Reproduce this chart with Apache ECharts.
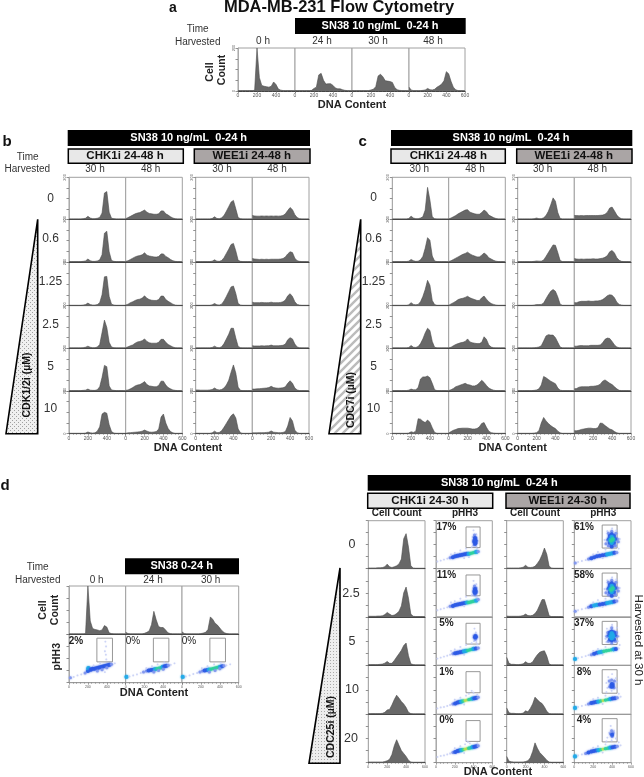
<!DOCTYPE html>
<html><head><meta charset="utf-8">
<style>html,body{margin:0;padding:0;background:#fff}#c{width:644px;height:777px;filter:blur(0.35px)}</style>
<script src="https://cdn.jsdelivr.net/npm/echarts@6/dist/echarts.min.js"></script>
</head><body><div id="c"></div>
<script>
// DNA-content bin centres shared by all histograms
const dnaBins=[0,25,50,75,100,125,150,175,200,225,250,275,300,325,350,375,400,425,450,475,500,525,550,575,600];

// Panel a
const a_0h =[2,2,2,2,2,2,2,3,200,62,26,22,20,18,22,42,30,9,4,2,2,2,2,2,2];
const a_24h=[2,2,2,2,2,2,2,3,12,18,75,82,50,32,34,34,26,14,10,10,6,3,2,2,2];
const a_30h=[2,2,2,2,2,2,2,2,5,8,20,70,78,66,48,46,44,40,16,6,3,2,2,2,2];
const a_48h=[18,4,2,2,2,2,3,5,12,6,5,8,18,24,32,48,90,80,45,18,6,2,2,2,2];

// Panel b: CHK1i / WEE1i at 30 h and 48 h, rows 0 to 10 uM
const b_chk30=[
[2,2,2,2,2,2,3,5,14,6,3,3,5,9,30,125,132,34,5,3,2,2,2,2,2],
[2,2,2,2,2,2,3,5,14,6,3,3,5,10,34,135,144,48,7,3,2,2,2,2,2],
[2,2,2,2,2,2,3,5,12,5,3,3,5,14,50,132,134,42,7,3,2,2,2,2,2],
[2,2,2,2,2,2,3,5,10,5,3,3,6,18,74,132,98,28,6,3,2,2,2,2,2],
[2,2,2,2,2,2,3,4,9,4,3,3,6,20,64,120,114,24,5,3,2,2,2,2,2],
[2,2,2,2,2,2,2,3,8,4,3,4,12,32,92,100,96,42,10,3,2,2,2,2,2]];
const b_chk48=[
[3,8,14,20,26,30,32,38,44,34,28,26,24,24,26,40,40,26,20,12,6,3,2,2,2],
[3,6,12,18,24,28,30,34,43,32,28,26,24,23,26,38,38,26,20,12,6,3,2,2,2],
[3,7,14,18,24,28,30,35,45,34,28,25,24,24,28,44,44,28,20,14,7,3,2,2,2],
[3,7,12,16,24,30,32,36,44,32,26,24,24,24,28,42,42,28,18,12,6,3,2,2,2],
[3,5,10,16,24,28,30,36,44,30,24,22,20,20,26,46,46,28,16,10,5,3,2,2,2],
[2,4,5,6,7,8,9,12,17,12,8,7,8,10,22,78,92,50,24,10,4,2,2,2,2]];
const b_wee30=[
[2,2,2,2,2,2,2,4,12,4,3,7,18,38,60,82,90,50,8,3,2,2,2,2,2],
[2,2,2,2,2,2,2,4,10,4,3,7,20,40,60,82,87,52,8,3,2,2,2,2,2],
[2,2,2,2,2,2,2,4,10,4,3,7,22,42,64,86,90,56,10,3,2,2,2,2,2],
[2,2,2,2,2,2,2,4,10,4,3,7,22,44,66,94,94,48,9,3,2,2,2,2,2],
[5,5,4,4,4,4,5,7,14,7,5,7,14,28,50,88,122,84,18,3,2,2,2,2,2],
[2,2,2,2,2,2,2,4,12,5,6,14,30,48,66,84,93,74,22,4,2,2,2,2,2]];
const b_wee48=[
[18,16,15,15,16,15,16,15,16,15,16,15,16,18,26,42,56,46,22,8,3,2,2,2,2],
[16,14,13,12,13,12,13,12,13,13,13,13,14,16,24,38,48,44,18,6,3,2,2,2,2],
[16,14,14,14,15,14,14,14,16,14,14,14,15,18,26,45,55,42,18,6,3,2,2,2,2],
[12,11,11,11,12,11,12,12,15,12,12,12,13,14,20,40,50,44,20,6,3,2,2,2,2],
[9,9,10,11,12,13,14,16,22,16,14,13,14,15,20,36,48,36,14,5,2,2,2,2,2],
[4,4,4,5,5,5,6,7,13,7,6,5,5,6,10,36,76,60,16,5,2,2,2,2,2]];

// Panel c: CDC7i rows 0 to 10 uM
const c_chk30=[
[2,2,2,2,2,2,2,4,15,6,3,3,6,12,44,152,92,12,3,2,2,2,2,2,2],
[2,2,2,2,2,2,2,4,12,6,3,4,10,26,64,114,102,28,5,2,2,2,2,2,2],
[2,2,2,2,2,2,2,4,14,6,4,6,18,42,74,116,94,24,5,2,2,2,2,2,2],
[2,2,2,2,2,2,2,4,13,5,4,8,22,44,72,94,84,32,5,2,2,2,2,2,2],
[2,2,2,2,2,2,2,4,9,6,6,16,56,66,66,70,62,36,6,2,2,2,2,2,2],
[2,2,2,2,2,2,2,3,9,6,12,70,68,58,52,64,54,28,6,2,2,2,2,2,2]];
const c_chk48=[
[2,6,12,18,26,32,38,44,46,34,30,26,24,24,32,44,36,20,14,8,4,2,2,2,2],
[2,6,12,18,24,30,36,40,46,38,32,28,24,24,32,42,34,20,14,8,4,2,2,2,2],
[2,8,14,20,28,32,34,38,43,36,32,28,24,24,36,44,30,18,10,6,3,2,2,2,2],
[2,5,12,18,22,26,28,32,44,30,26,24,22,22,28,54,42,16,6,3,2,2,2,2,2],
[2,6,12,20,24,28,32,36,30,28,24,24,28,38,50,40,26,14,8,4,2,2,2,2,2],
[3,10,16,20,24,25,26,26,26,24,22,22,24,32,48,52,30,12,5,3,2,2,2,2,2]];
const c_wee30=[
[2,2,2,2,2,2,2,3,6,3,3,7,18,38,68,102,86,32,4,2,2,2,2,2,2],
[2,2,2,2,2,2,2,3,5,4,4,9,26,44,62,80,78,44,7,2,2,2,2,2,2],
[2,2,2,2,2,2,2,3,5,5,6,12,32,50,66,74,66,40,7,2,2,2,2,2,2],
[2,2,2,2,2,2,2,3,4,6,12,34,58,64,62,62,50,28,6,2,2,2,2,2,2],
[2,2,2,2,2,2,2,3,5,10,28,68,62,54,46,40,34,14,4,2,2,2,2,2,2],
[2,2,2,2,2,2,2,3,5,14,50,76,60,48,38,30,24,12,4,2,2,2,2,2,2]];
const c_wee48=[
[18,18,17,18,17,18,18,18,18,18,18,19,20,24,34,54,58,40,20,8,3,2,2,2,2],
[16,14,13,14,13,14,14,14,15,14,14,16,18,22,30,48,54,42,20,8,3,2,2,2,2],
[14,14,18,20,20,20,22,20,20,22,22,24,28,36,46,50,48,36,16,6,3,2,2,2,2],
[10,10,12,13,12,12,12,14,14,14,14,16,26,42,48,46,32,16,6,3,2,2,2,2,2],
[10,12,18,20,20,20,20,22,22,24,26,32,46,52,44,36,30,20,10,3,2,2,2,2,2],
[14,14,16,20,22,24,26,26,24,24,28,50,48,38,30,22,18,10,4,2,2,2,2,2,2]];

// Panel d, left
const d_0h =[2,2,2,2,2,2,2,3,200,55,24,20,18,15,18,36,30,6,3,2,2,2,2,2,2];
const d_24h=[8,3,2,2,2,2,2,2,4,8,14,40,95,60,32,28,28,18,6,3,2,2,2,2,2];
const d_30h=[10,3,2,2,2,2,2,2,3,5,8,20,72,62,46,38,26,14,6,3,2,2,2,2,2];

// Panel d, right: cell count rows 0 to 20 uM
const d_chkCount=[
[3,3,3,3,4,4,5,8,19,8,5,8,12,20,40,125,146,90,12,3,2,2,2,2,2],
[3,3,3,3,4,4,5,10,19,12,6,8,14,24,46,100,124,78,12,3,2,2,2,2,2],
[3,3,3,3,3,4,5,9,16,8,8,20,34,48,62,82,92,40,6,3,2,2,2,2,2],
[3,3,3,3,3,3,4,8,18,20,38,60,78,66,52,42,28,8,3,2,2,2,2,2,2],
[3,3,3,3,3,3,3,5,8,14,34,70,95,72,50,38,26,10,3,2,2,2,2,2,2]];
const d_weeCount=[
[3,3,3,3,3,3,4,6,14,6,5,6,10,22,36,58,86,60,10,3,2,2,2,2,2],
[4,3,3,3,3,3,4,6,12,6,5,7,14,28,50,72,72,40,5,2,2,2,2,2,2],
[33,8,4,4,3,3,4,6,15,8,8,14,30,44,54,58,60,38,5,2,2,2,2,2,2],
[26,6,4,4,3,3,3,5,14,10,24,42,70,60,50,44,30,12,3,2,2,2,2,2,2],
[26,6,4,3,3,3,3,3,5,8,20,46,82,60,42,32,22,10,3,2,2,2,2,2,2]];

// pHH3 dot plots: [DNA content, pHH3 level, density class]
const gateLeft=[295,460,43,92], gateChk=[320,470,44,87], gateWee=[295,453,43,91];
const pct_left=["2%","0%","0%"];
const pct_chk=["17%","11%","5%","1%","0%"];
const pct_wee=["61%","58%","37%","8%","4%"];
const p_left0=[[15,10,2],[50,12,1],[90,15,1],[130,17,1],[170,20,2],[200,24,3],[215,28,3],[205,30,4],[230,27,3],[250,29,3],[270,29,3],[290,30,3],[310,31,3],[330,32,3],[350,33,3],[370,34,3],[390,35,3],[410,36,3],[430,37,3],[450,38,2],[485,40,1],[300,24,2],[350,27,2],[400,31,2],[260,36,1],[330,40,1],[380,22,1],[385,85,1],[392,75,1],[380,65,1],[390,58,1],[395,48,1]];
const p_left1=[[8,12,4],[40,13,1],[80,15,1],[120,17,1],[160,20,1],[190,22,2],[220,24,2],[245,25,3],[270,26,3],[295,27,3],[315,28,4],[335,29,5],[355,30,5],[375,31,5],[395,33,4],[415,34,3],[435,35,3],[455,36,2],[480,37,1],[520,40,1],[300,22,2],[350,25,2],[400,28,2],[280,34,1],[340,38,1],[410,42,1],[220,30,1]];
const p_left2=[[8,12,4],[40,13,1],[80,15,1],[120,18,1],[160,20,1],[190,22,2],[215,24,2],[240,25,3],[265,26,3],[285,27,4],[305,28,5],[325,29,5],[345,30,5],[365,31,5],[385,32,5],[405,33,4],[425,34,3],[445,35,2],[470,36,1],[510,38,1],[290,22,2],[350,25,2],[400,29,2],[270,34,1],[340,38,1],[410,41,1],[210,30,1]];
const p_chk=[
[[15,15,1],[50,17,1],[85,19,1],[120,21,1],[150,23,2],[180,24,3],[205,26,3],[230,27,3],[255,28,3],[280,29,3],[305,30,3],[330,31,3],[350,31,4],[370,32,5],[390,33,5],[410,34,5],[430,35,4],[450,36,2],[200,33,1],[260,38,1],[320,42,1],[380,45,1],[300,22,1],[440,42,1],[160,30,1],[350,24,1],[400,80,1],[430,72,1],[390,66,1],[445,58,1],[395,48,1],[430,46,1],[410,70,2],[425,64,2],[405,60,2],[430,54,2],[410,50,2],[415,64,3],[422,58,3],[408,56,3],[418,52,3],[415,58,3]],
[[15,14,1],[50,16,1],[85,18,1],[120,20,1],[150,22,2],[180,23,3],[205,25,3],[230,26,3],[255,27,3],[280,28,3],[305,29,3],[330,30,4],[350,30,5],[370,31,5],[390,32,5],[410,33,5],[430,34,4],[450,36,2],[200,33,1],[260,38,1],[320,42,1],[380,45,1],[300,22,1],[440,42,1],[160,30,1],[400,75,1],[430,68,1],[395,60,1],[440,52,1],[400,45,1],[430,42,1],[410,64,2],[425,60,2],[405,55,2],[428,50,2],[415,46,2],[415,58,3],[422,54,3],[410,52,3],[416,50,3]],
[[15,14,1],[50,16,1],[85,18,1],[120,20,1],[150,22,1],[180,24,2],[205,25,3],[230,26,3],[255,27,3],[280,28,3],[300,29,4],[320,30,4],[340,31,5],[360,32,5],[380,33,5],[400,34,4],[425,35,3],[450,36,2],[200,33,1],[260,38,1],[320,42,1],[380,46,1],[300,22,1],[440,44,1],[160,30,1],[410,76,1],[425,68,1],[400,62,1],[440,58,1],[405,50,1],[430,48,1],[418,62,2],[428,58,2],[410,58,2],[420,54,2],[418,58,3],[422,60,3]],
[[15,12,1],[50,14,1],[85,15,1],[120,17,1],[150,19,1],[180,21,2],[205,22,3],[230,24,3],[250,25,3],[270,26,4],[290,27,5],[310,28,6],[330,29,6],[350,30,5],[370,31,5],[390,32,4],[410,33,3],[430,34,3],[450,35,2],[200,30,1],[260,34,1],[320,38,1],[350,42,1],[300,20,1],[440,40,1],[400,44,1],[380,48,1]],
[[15,12,1],[50,14,1],[85,15,1],[120,17,1],[150,19,1],[180,21,2],[205,22,3],[230,24,3],[250,25,3],[270,26,4],[290,27,5],[310,28,6],[330,29,6],[350,30,5],[370,31,5],[390,32,4],[410,33,3],[430,34,3],[450,35,2],[200,30,1],[260,34,1],[310,38,1],[340,43,1],[300,20,1],[440,40,1],[360,40,1],[320,46,1]]];
const p_wee=[
[[10,12,2],[40,14,1],[80,16,1],[120,18,1],[150,20,2],[180,22,3],[210,24,3],[240,26,3],[270,27,3],[300,28,3],[330,29,3],[350,30,4],[375,31,4],[400,32,4],[425,33,3],[450,34,2],[250,35,1],[330,40,1],[470,42,1],[300,22,1],[200,30,1],[320,60,1],[480,62,1],[400,84,1],[350,78,1],[445,80,1],[335,52,2],[465,56,2],[360,74,2],[440,74,2],[396,78,2],[350,60,2],[455,62,2],[360,48,2],[435,48,2],[396,46,3],[368,62,3],[430,62,3],[396,72,3],[396,52,3],[375,68,3],[420,68,3],[375,54,3],[420,54,3],[382,60,4],[412,60,4],[396,66,4],[396,54,4],[398,60,5],[408,62,5],[388,58,5]],
[[10,12,2],[40,14,1],[80,16,1],[120,18,1],[150,20,2],[180,22,3],[210,24,4],[240,25,4],[270,26,3],[300,27,3],[330,28,3],[350,29,4],[375,30,4],[400,31,4],[425,32,3],[450,33,2],[250,35,1],[330,38,1],[470,40,1],[300,21,1],[200,30,1],[320,58,1],[480,60,1],[400,82,1],[350,76,1],[445,78,1],[335,50,2],[465,54,2],[360,72,2],[440,72,2],[396,76,2],[350,58,2],[455,60,2],[360,46,2],[435,46,2],[396,44,3],[368,60,3],[430,60,3],[396,70,3],[396,50,3],[375,66,3],[420,66,3],[375,52,3],[420,52,3],[382,58,4],[412,58,4],[396,64,4],[396,52,4],[398,58,5],[408,60,5],[388,56,5]],
[[8,13,4],[40,15,1],[80,17,1],[120,19,1],[150,21,1],[180,22,2],[210,24,3],[240,26,3],[265,27,4],[290,28,4],[315,29,5],[340,30,5],[365,31,5],[390,32,5],[415,33,4],[440,34,3],[470,35,1],[250,34,1],[330,38,1],[480,42,1],[300,22,1],[200,30,1],[330,55,1],[470,60,1],[400,84,1],[345,76,1],[450,78,1],[340,48,1],[460,50,1],[355,68,2],[445,68,2],[396,78,2],[345,60,2],[452,60,2],[360,50,2],[435,50,2],[396,46,2],[370,62,3],[428,62,3],[396,70,3],[396,52,3],[378,68,3],[420,68,3],[378,54,3],[420,54,3],[385,60,4],[410,60,4],[396,66,4],[396,56,4],[398,60,4],[402,63,4]],
[[8,13,4],[40,15,1],[80,17,1],[120,19,1],[150,21,2],[180,23,3],[205,24,3],[230,25,3],[255,26,4],[280,27,5],[305,28,6],[330,29,5],[355,30,5],[380,31,4],[405,32,3],[430,33,3],[455,34,2],[490,36,1],[250,34,1],[330,38,1],[470,42,1],[300,21,1],[200,31,1],[340,45,1],[340,64,1],[450,66,1],[400,82,1],[360,76,1],[440,74,1],[350,54,1],[450,52,1],[395,48,1],[370,68,2],[425,68,2],[385,60,2],[415,62,2],[395,70,2],[375,56,2],[420,54,2],[398,62,3],[405,58,3],[395,56,3]],
[[8,13,4],[40,15,1],[80,17,1],[120,19,2],[150,21,3],[180,23,3],[205,24,3],[230,25,3],[255,26,4],[280,27,5],[305,28,6],[330,29,5],[355,30,5],[380,31,4],[405,32,3],[430,33,3],[455,34,2],[490,36,1],[250,34,1],[330,38,1],[470,42,1],[300,21,1],[200,31,1],[340,44,1],[370,62,1],[420,66,1],[385,76,1],[350,52,1],[440,50,1],[395,46,1],[385,60,2],[410,62,2],[400,54,2],[395,66,2],[400,58,3]]];

const FONT='"Liberation Sans",Arial,sans-serif';
const dotColor=[null,'#c4cdf5','#8096ee','#2c5ae6','#1fa9e8','#2fd19c','#bbe24e'];
const dotSize=[0,1.8,3,4,4.2,3.4,2.8];
const grid=[],xAxis=[],yAxis=[],series=[];

function cell(x0,x1,y0,y1,o){
  const i=grid.length;
  grid.push({left:x0,top:y0,width:x1-x0,height:y1-y0,show:true,borderColor:'#a0a0a0',borderWidth:1,backgroundColor:'#fff',containLabel:false});
  xAxis.push({gridIndex:i,type:'value',min:0,max:600,interval:200,splitLine:{show:false},
    axisLine:{show:true,onZero:false,lineStyle:{color:o.baseColor||'#444',width:1}},
    axisTick:{show:!!o.xTicks,length:2,lineStyle:{color:'#666',width:.6}},
    minorTick:{show:!!o.xTicks,splitNumber:5,length:1,lineStyle:{color:'#666',width:.6}},
    axisLabel:{show:!!o.xLabels,fontSize:o.tiny?3.5:5,color:'#555',margin:2,fontFamily:FONT,showMaxLabel:!!o.lastX,showMinLabel:true,hideOverlap:false}});
  yAxis.push({gridIndex:i,type:'value',min:0,max:o.yMax||200,interval:o.yInt||50,splitLine:{show:false},
    axisLine:{show:!!o.yTicks,lineStyle:{color:'#aaa',width:1}},
    axisTick:{show:!!o.yTicks,length:2.5,lineStyle:{color:'#777',width:.8}},
    minorTick:{show:false},
    axisLabel:{show:!!o.yLabels,fontSize:4,color:'#666',margin:2,rotate:90,fontFamily:FONT,
      formatter:v=>(v===0||v===200)?String(v):''}});
  return i;
}
function hist(x0,x1,y0,y1,vals,o){
  const i=cell(x0,x1,y0,y1,o);
  series.push({type:'line',xAxisIndex:i,yAxisIndex:i,data:dnaBins.map((d,k)=>[d,vals[k]]),showSymbol:false,silent:true,animation:false,
    lineStyle:{color:'#4c4c4c',width:.6},areaStyle:{color:'#686868',opacity:1}});
}
function dots(x0,x1,y0,y1,pts,gate,o){
  const i=cell(x0,x1,y0,y1,Object.assign({yMax:100,yInt:25,baseColor:'#9a9a9a'},o));
  series.push({type:'scatter',xAxisIndex:i,yAxisIndex:i,silent:true,animation:false,
    data:pts.map(p=>({value:p,itemStyle:{color:dotColor[p[2]],shadowColor:dotColor[p[2]],shadowBlur:p[2]>1?2:1,opacity:p[2]>1?.9:.7}})),
    symbolSize:v=>dotSize[v[2]],
    markArea:{silent:true,animation:false,label:{show:false},
      itemStyle:{color:'rgba(0,0,0,0)',borderColor:'#8c8c8c',borderWidth:.9},
      data:[[{xAxis:gate[0],yAxis:gate[2]},{xAxis:gate[1],yAxis:gate[3]}]]}});
}

// panel a cells
[[238,295,a_0h],[295,352,a_24h],[352,409,a_30h],[409,465,a_48h]].forEach((c,k)=>
  hist(c[0],c[1],48,91,c[2],{xTicks:true,xLabels:true,lastX:k===3,yTicks:k===0,yLabels:k===0}));

// panels b and c cells
const rowTops=[177.3,219.3,262,305.7,348.3,391],rowBots=[219.3,262,305.7,348.3,391,433.7];
function block(cols,sets){
  cols.forEach((xs,c)=>{
    rowTops.forEach((t,r)=>{
      const last=r===5;
      hist(xs[0],xs[1],t,rowBots[r],sets[c][r],{xTicks:last,xLabels:last,lastX:c===1||c===3,yTicks:c%2===0,yLabels:c%2===0});
    });
  });
}
block([[69,125.7],[125.7,182.3],[195.7,252.3],[252.3,309]],[b_chk30,b_chk48,b_wee30,b_wee48]);
block([[392.3,448.7],[448.7,505.3],[517.7,574.3],[574.3,631]],[c_chk30,c_chk48,c_wee30,c_wee48]);

// panel d left cells
[[69,125.7,d_0h,p_left0],[125.7,182,d_24h,p_left1],[182,238.7,d_30h,p_left2]].forEach((c,k)=>{
  hist(c[0],c[1],586,634.3,c[2],{yTicks:k===0});
  dots(c[0],c[1],634.3,682.7,c[3],gateLeft,{xTicks:true,xLabels:true,tiny:true,lastX:k===2,yTicks:k===0});
});

// panel d right cells
const dTops=[520.7,568.7,617,665.3,714.3],dBots=[568.7,617,665.3,714.3,762.7];
dTops.forEach((t,r)=>{
  const b=dBots[r],last=r===4,o={xTicks:last,xLabels:last,tiny:true,lastX:true,yTicks:true};
  hist(368.3,425,t,b,d_chkCount[r],o);
  dots(436,492.3,t,b,p_chk[r],gateChk,o);
  hist(506.7,563.3,t,b,d_weeCount[r],o);
  dots(574.3,631,t,b,p_wee[r],gateWee,o);
});

// fill patterns for the dose wedges
function pattern(kind){
  const c=document.createElement('canvas');const g=c.getContext('2d');
  if(kind==='hatch'){c.width=c.height=8;g.fillStyle='#fff';g.fillRect(0,0,8,8);g.strokeStyle='#bcbcbc';g.lineWidth=2.4;
    g.beginPath();g.moveTo(-2,2);g.lineTo(2,-2);g.moveTo(-2,10);g.lineTo(10,-2);g.moveTo(6,10);g.lineTo(10,6);g.stroke();}
  else if(kind==='cross'){c.width=c.height=4;g.fillStyle='#f0f0f0';g.fillRect(0,0,4,4);g.fillStyle='#a0a0a0';g.fillRect(0,0,1,1);g.fillRect(2,2,1,1);}
  else{c.width=c.height=3;g.fillStyle='#eee';g.fillRect(0,0,3,3);g.fillStyle='#aaa';g.fillRect(0,0,1,1);}
  return {image:c,repeat:'repeat'};
}
const gfx=[];
function T(s,x,y,size,bold,color,rot){
  gfx.push({type:'text',x,y,rotation:rot||0,z:20,silent:true,
    style:{text:s,x:0,y:0,align:'center',verticalAlign:'middle',fill:color||'#333',font:(bold?'bold ':'')+size+'px '+FONT}});
}
function bar(x0,x1,y0,y1,fill,s,tx,txtCol,lw){
  gfx.push({type:'rect',z:10,silent:true,shape:{x:x0,y:y0,width:x1-x0,height:y1-y0},style:{fill,stroke:'#000',lineWidth:lw||0}});
  T(s,tx,(y0+y1)/2,lw?11.5:11,true,txtCol);
}
function wedge(pts,fill){gfx.push({type:'polygon',z:9,silent:true,shape:{points:pts},style:{fill,stroke:'#000',lineWidth:1.6,lineJoin:'miter'}});}
const V=Math.PI/2; // 90 deg counter-clockwise in zrender

// panel a text
T('a',173,8,14,true,'#111');
T('MDA-MB-231 Flow Cytometry',339,7.5,16.5,true,'#111');
bar(295,465.7,18,34,'#000','SN38 10 ng/mL  0-24 h',380,'#fff');
T('Time',197.7,29.5,10);T('Harvested',197.7,42,10);
T('0 h',263,41.5,10);T('24 h',322,41.5,10);T('30 h',378,41.5,10);T('48 h',433,41.5,10);
T('Cell',210,72,10.5,true,'#222',V);T('Count',222,70,10.5,true,'#222',V);
T('DNA Content',352,105,11,true,'#222');

// panel b text
T('b',7,141.5,15,true,'#111');
bar(67.7,310,130,146,'#000','SN38 10 ng/mL  0-24 h',188.7,'#fff');
bar(68.3,183.3,149,163.3,'#e8e8e8','CHK1i 24-48 h',125,'#111',1.5);
bar(194.3,310,149,163.3,'#aaa5a5','WEE1i 24-48 h',251.7,'#111',1.5);
T('Time',27.7,157,10);T('Harvested',27.3,169.5,10);
T('30 h',95,169.7,10);T('48 h',150.7,169.7,10);T('30 h',222,169.7,10);T('48 h',277,169.7,10);
['0','0.6','1.25','2.5','5','10'].forEach((s,i)=>T(s,50.5,[199,239,281.7,325,367,409][i],12));
wedge([[37.7,219.3],[6,433.7],[37.7,433.7]],pattern('cross'));
T('CDK1/2i (µM)',27,385,10.5,true,'#111',V);
T('DNA Content',188,447.7,11,true,'#222');

// panel c text
T('c',362.7,142,15,true,'#111');
bar(391,632.3,130,146,'#000','SN38 10 ng/mL  0-24 h',511,'#fff');
bar(391,505.3,149,163.3,'#e8e8e8','CHK1i 24-48 h',448.3,'#111',1.5);
bar(516.7,632,149,163.3,'#aaa5a5','WEE1i 24-48 h',573.7,'#111',1.5);
T('30 h',419.3,169.7,10);T('48 h',475,169.7,10);T('30 h',542.7,169.7,10);T('48 h',597.3,169.7,10);
['0','0.6','1.25','2.5','5','10'].forEach((s,i)=>T(s,373.5,[197.5,239,281.7,325,367,409][i],12));
wedge([[360.7,219.3],[329,433.7],[360.7,433.7]],pattern('hatch'));
T('CDC7i (µM)',350.7,400,10.5,true,'#111',V);
T('DNA Content',512.7,447.7,11,true,'#222');

// panel d left text
T('d',5,486,15,true,'#111');
bar(125,239,558.3,574.3,'#000','SN38 0-24 h',181.7,'#fff');
T('Time',37.7,567.7,10);T('Harvested',37.7,580,10);
T('0 h',96.7,580,10);T('24 h',153,580,10);T('30 h',210.7,580,10);
T('Cell',43,610,10.5,true,'#222',V);T('Count',55,610,10.5,true,'#222',V);T('pHH3',56.7,656.7,10.5,true,'#222',V);
pct_left.forEach((s,i)=>T(s,[76,133,189][i],641,10,i===0,'#222'));
T('DNA Content',154,692.7,11,true,'#222');

// panel d right text
bar(367.7,630.7,475,490.7,'#000','SN38 10 ng/mL  0-24 h',499.3,'#fff');
bar(367.7,492.7,493.3,508.3,'#e8e8e8','CHK1i 24-30 h',430,'#111',1.5);
bar(506,630,493.3,508.3,'#aaa5a5','WEE1i 24-30 h',567.7,'#111',1.5);
T('Cell Count',396.7,513.5,10,true,'#222');T('pHH3',465,513.5,10,true,'#222');T('Cell Count',535,513.5,10,true,'#222');T('pHH3',603.3,513.5,10,true,'#222');
['0','2.5','5','10','20'].forEach((s,i)=>T(s,[352,351,352,352,351][i],[544.7,593.3,641.7,690,738.7][i],12.5));
pct_chk.forEach((s,i)=>T(s,446.5,527+[0,48,96.7,145,193.7][i],10,true,'#222'));
pct_wee.forEach((s,i)=>T(s,584,527+[0,48,96.7,145,193.7][i],10,true,'#222'));
wedge([[340,568],[309,763.3],[340,763.3]],pattern('dots'));
T('CDC25i (µM)',331,727,10.5,true,'#111',V);
T('Harvested at 30 h',638,640,11.5,false,'#222',-V);
T('DNA Content',498,772,11,true,'#222');

const chart=echarts.init(document.getElementById('c'),null,{renderer:'canvas'});
chart.setOption({animation:false,backgroundColor:'#fff',grid,xAxis,yAxis,series,graphic:{elements:gfx}});
</script></body></html>
